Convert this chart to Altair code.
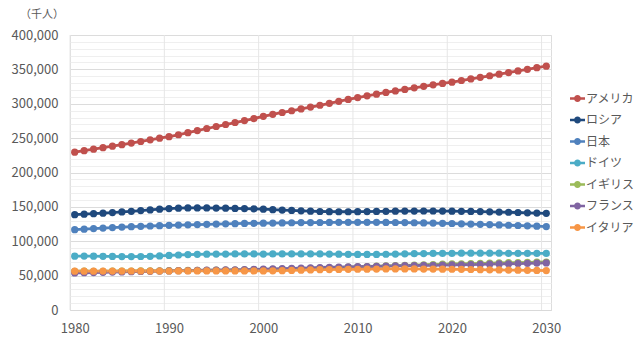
import altair as alt
import pandas as pd

years = list(range(1980, 2031))

usa = [229.5, 231.7, 233.9, 236.1, 238.3, 240.5, 242.8, 245.1, 247.5, 249.9,
       252.1, 254.9, 257.9, 261.0, 264.0, 266.9, 269.8, 272.7, 275.6, 278.5,
       281.7, 284.6, 287.3, 289.8, 292.4, 295.1, 297.8, 300.6, 303.5, 306.3,
       309.0, 311.6, 314.0, 316.4, 318.7, 320.9, 323.1, 325.3, 327.5, 329.5,
       331.4, 333.8, 336.1, 338.4, 340.7, 343.0, 345.4, 347.8, 350.1, 352.4,
       354.7]
russia = [138.7, 139.4, 140.1, 140.9, 141.7, 142.6, 143.6, 144.6, 145.6, 146.6,
          147.5, 148.1, 148.4, 148.5, 148.4, 148.3, 148.1, 147.8, 147.5, 147.1,
          146.6, 146.0, 145.4, 144.8, 144.2, 143.7, 143.3, 143.0, 142.9, 142.9,
          143.0, 143.2, 143.4, 143.6, 143.8, 143.9, 143.9, 144.0, 144.0, 143.9,
          143.8, 143.6, 143.4, 143.1, 142.8, 142.5, 142.2, 141.8, 141.4, 141.0,
          140.6]
japan = [116.8, 117.6, 118.4, 119.2, 119.9, 120.6, 121.2, 121.7, 122.2, 122.6,
         123.1, 123.5, 123.9, 124.3, 124.6, 125.0, 125.3, 125.6, 125.9, 126.1,
         126.3, 126.5, 126.7, 126.9, 127.1, 127.2, 127.3, 127.4, 127.5, 127.6,
         127.6, 127.6, 127.5, 127.4, 127.3, 127.1, 126.9, 126.7, 126.4, 126.1,
         125.8, 125.4, 125.0, 124.6, 124.2, 123.8, 123.3, 122.9, 122.4, 121.9,
         121.3]
germany = [78.3, 78.4, 78.3, 78.1, 77.9, 77.7, 77.7, 77.8, 78.1, 78.7,
           79.4, 80.0, 80.6, 81.0, 81.2, 81.3, 81.4, 81.5, 81.5, 81.5,
           81.4, 81.5, 81.6, 81.6, 81.6, 81.6, 81.5, 81.3, 81.2, 81.0,
           80.8, 80.8, 80.9, 81.1, 81.4, 81.7, 82.0, 82.1, 82.3, 82.4,
           82.5, 82.6, 82.6, 82.6, 82.6, 82.6, 82.5, 82.5, 82.4, 82.4,
           82.3]
uk = [56.3, 56.4, 56.3, 56.3, 56.4, 56.6, 56.7, 56.8, 57.0, 57.1,
      57.2, 57.4, 57.5, 57.6, 57.8, 57.9, 58.0, 58.2, 58.4, 58.6,
      58.9, 59.1, 59.4, 59.7, 60.0, 60.4, 60.8, 61.3, 61.8, 62.3,
      62.8, 63.3, 63.7, 64.1, 64.6, 65.0, 65.4, 65.8, 66.2, 66.6,
      67.0, 67.3, 67.6, 67.9, 68.2, 68.5, 68.8, 69.0, 69.3, 69.5,
      69.8]
france = [53.9, 54.2, 54.5, 54.8, 55.1, 55.4, 55.7, 56.0, 56.3, 56.6,
          56.9, 57.2, 57.4, 57.7, 57.9, 58.1, 58.3, 58.5, 58.7, 59.0,
          59.4, 59.8, 60.2, 60.6, 61.0, 61.4, 61.8, 62.2, 62.5, 62.8,
          63.0, 63.3, 63.6, 63.9, 64.2, 64.5, 64.7, 64.9, 65.1, 65.3,
          65.5, 65.8, 66.1, 66.4, 66.7, 67.0, 67.3, 67.6, 67.9, 68.2,
          68.5]
italy = [56.4, 56.5, 56.5, 56.6, 56.6, 56.6, 56.7, 56.7, 56.7, 56.7,
         56.7, 56.8, 56.8, 56.8, 56.8, 56.8, 56.9, 56.9, 56.9, 56.9,
         56.9, 57.0, 57.2, 57.6, 58.0, 58.3, 58.6, 58.8, 59.0, 59.2,
         59.3, 59.4, 59.5, 59.7, 59.8, 59.8, 59.7, 59.6, 59.5, 59.4,
         59.3, 59.1, 58.9, 58.7, 58.5, 58.3, 58.1, 57.9, 57.7, 57.5,
         57.3]

names = ["アメリカ", "ロシア", "日本", "ドイツ", "イギリス", "フランス", "イタリア"]
series = [usa, russia, japan, germany, uk, france, italy]
colors = ["#C0504D", "#1F497D", "#4F81BD", "#4BACC6", "#9BBB59", "#8064A2", "#F79646"]

rows = []
for i, (n, s) in enumerate(zip(names, series)):
    for y, v in zip(years, s):
        rows.append({"year": y, "country": n, "pop": v * 1000, "k": i})
df = pd.DataFrame(rows)

decades = [1980, 1990, 2000, 2010, 2020, 2030]
grid_df = pd.DataFrame({"year": [d - 0.5 for d in decades]})

FONT = "Noto Sans CJK JP"
GRAY = "#595959"

xscale = alt.Scale(domain=[1979.5, 2030.5], nice=False, zero=False)
yscale = alt.Scale(domain=[0, 400000], nice=False)
xaxis = alt.Axis(values=decades, format="d", title=None, grid=False,
                 ticks=False, domain=True, domainColor="#D9D9D9",
                 labelFont=FONT, labelFontSize=13, labelColor=GRAY,
                 labelPadding=12)

vgrid = alt.Chart(grid_df).mark_rule(color="#E6E6E6", strokeWidth=1).encode(
    x=alt.X("year:Q", scale=xscale, axis=xaxis)
)

legend_path = ("M-1,-0.16L1,-0.16L1,0.16L-1,0.16Z "
               "M-0.47,0A0.47,0.47,0,1,1,0.47,0A0.47,0.47,0,1,1,-0.47,0Z")

lines = alt.Chart(df).mark_line(
    strokeWidth=2.8,
    point=alt.OverlayMarkDef(filled=True, size=52, opacity=1),
).encode(
    x=alt.X("year:Q", scale=xscale, axis=xaxis),
    y=alt.Y("pop:Q", scale=yscale,
            axis=alt.Axis(values=list(range(0, 400001, 10000)), title=None,
                          ticks=False, domain=False,
                          labelExpr="datum.value % 50000 === 0 ? format(datum.value, ',') : ''",
                          gridColor={"condition": {"test": "datum.value % 50000 === 0", "value": "#DCDCDC"},
                                     "value": "#EFEFEF"},
                          labelFont=FONT, labelFontSize=13, labelColor=GRAY,
                          labelPadding=12)),
    color=alt.Color("country:N", scale=alt.Scale(domain=names, range=colors),
                    sort=names,
                    legend=alt.Legend(title=None, orient="none", legendX=500, legendY=56,
                                      symbolType=legend_path, symbolSize=225,
                                      symbolStrokeWidth=0,
                                      labelFont=FONT, labelFontSize=12, labelColor=GRAY,
                                      labelOffset=1, rowPadding=7.5)),
    order=alt.Order("k:Q"),
)

chart = alt.layer(vgrid, lines).properties(
    width=481, height=275,
    autosize=alt.AutoSizeParams(type="none"),
    padding={"left": 70, "top": 35, "right": 89, "bottom": 41},
    title=alt.TitleParams("（千人）", anchor="start", frame="group", dx=-50, offset=9,
                          font=FONT, fontSize=11, fontWeight="normal", color=GRAY),
).configure_view(stroke=None).configure(background="white")

chart.save("out.html", embed_options={"renderer": "svg", "actions": False})
